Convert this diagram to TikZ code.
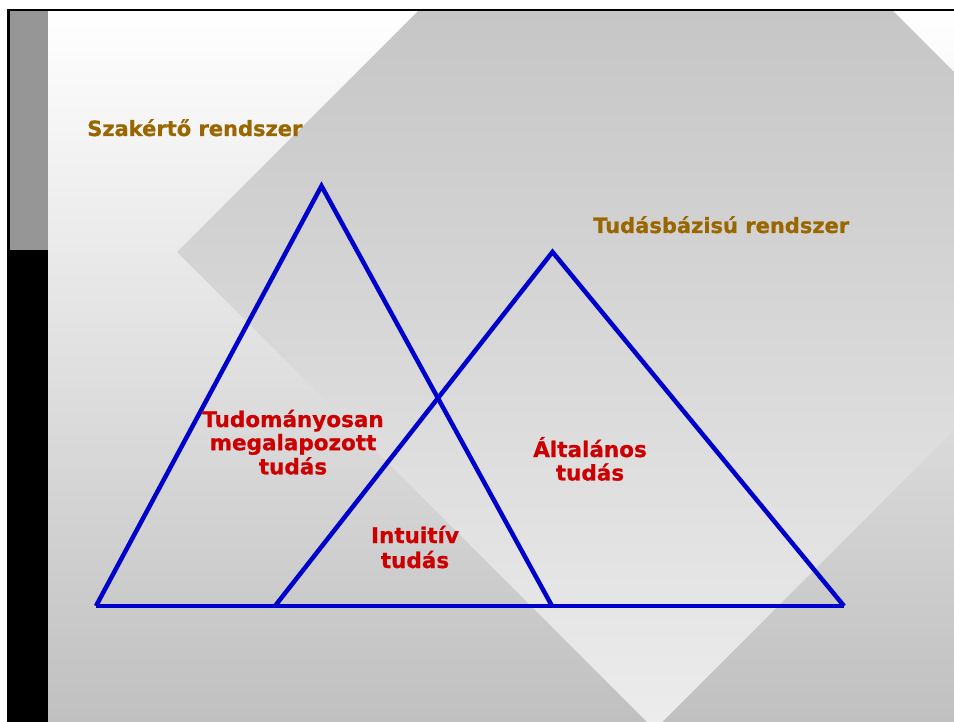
\documentclass[tikz,border=0pt]{standalone}
\usepackage{fontspec}
\setmainfont{DejaVu Sans}[BoldFeatures={FakeBold=0.8}]
\definecolor{txtbrown}{HTML}{996600}
\definecolor{txtred}{HTML}{CC0000}
\definecolor{triblue}{HTML}{0000CC}
\definecolor{stripgray}{HTML}{969696}
\definecolor{bgbottom}{RGB}{192,192,192}
\definecolor{dmtop}{RGB}{198,198,198}
\definecolor{dmbottom}{RGB}{236,236,236}
\tikzset{
  title/.style={anchor=base west, inner sep=0pt, text=txtbrown, font=\bfseries\fontsize{21}{23}\selectfont},
  lbl/.style={anchor=base, inner sep=0pt, text=txtred, font=\bfseries\fontsize{21.5}{23}\selectfont},
  tri/.style={draw=triblue, line width=4.5pt, line join=miter}
}
\begin{document}
\begin{tikzpicture}[x=1pt,y=-1pt]
\useasboundingbox (0,0) rectangle (954,722);
\fill[white] (0,0) rectangle (954,722);
% background gradient
\shade[top color=white, bottom color=bgbottom] (48,11) rectangle (954,722);
% large diamond
\begin{scope}
  \clip (177,252) -- (655.5,-226.5) -- (1133,251) -- (654.5,729.5) -- cycle;
  \shade[top color=dmtop, bottom color=dmbottom] (48,11) rectangle (954,722);
\end{scope}
% left strip and top border
\fill[stripgray] (10,11) rectangle (48,250);
\fill[black] (7,9) rectangle (10,250);
\fill[black] (7,250) rectangle (48,722);
\fill[black] (7,9) rectangle (954,11);
% triangle vertices
\coordinate (A1) at (96,606);
\coordinate (T1) at (321.5,186);
\coordinate (B1) at (552,606);
\coordinate (A2) at (275,606);
\coordinate (T2) at (552.5,252);
\coordinate (B2) at (844,606);
\draw[tri] (A1) -- (T1) -- (B1);
\draw[tri] (A2) -- (T2) -- (B2);
\draw[tri] (A1) -- (B2);
% texts
\node[title] (sz) at (87,136) {Szakértő rendszer};
\node[title] (tb) at (593,233) {Tudásbázisú rendszer};
\node[lbl] (tud) at (293,427) {\setlength{\tabcolsep}{0pt}\begin{tabular}[t]{c}Tudományosan\\megalapozott\\tudás\end{tabular}};
\node[lbl] (alt) at (590,457) {\fontsize{21.5}{21}\selectfont\setlength{\tabcolsep}{0pt}\begin{tabular}[t]{c}Általános\\tudás\end{tabular}};
\node[lbl] (int) at (415,543) {\fontsize{21.5}{25}\selectfont\setlength{\tabcolsep}{0pt}\begin{tabular}[t]{c}Intuitív\\tudás\end{tabular}};
\end{tikzpicture}
\end{document}
